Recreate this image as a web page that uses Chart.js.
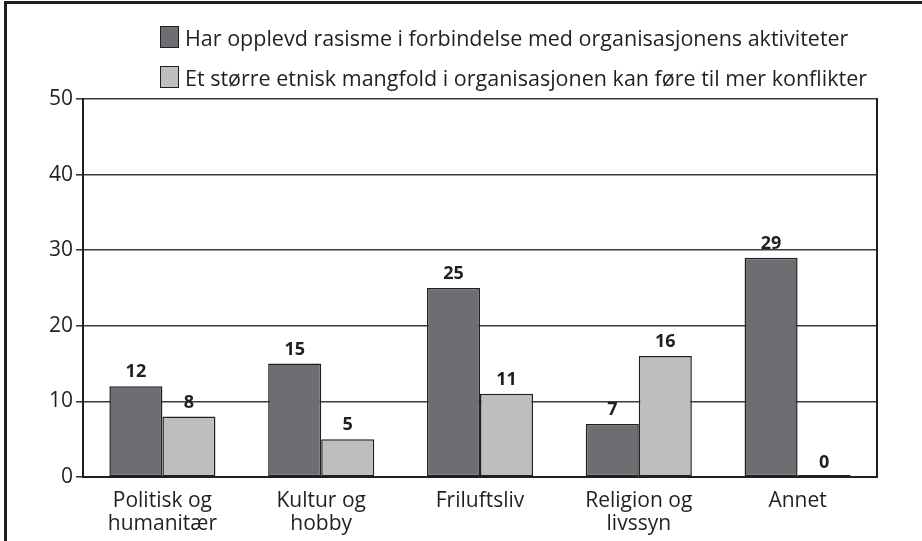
<!DOCTYPE html>
<html>
<head>
  <title>Rasisme og mangfold</title>
  <script src="https://cdn.jsdelivr.net/npm/chart.js"></script>
  <style>
    body { margin: 0; background: #fff; }
    #wrap { position: relative; width: 922px; height: 541px; }
    #frame { position: absolute; left: 4px; top: 1px; right: 0; bottom: 0;
             border-left: 3px solid #231f20; border-top: 3px solid #231f20; pointer-events: none; }
    #legend { position: absolute; left: 160px; top: 25px; font-family: "Open Sans", sans-serif;
              font-size: 21.5px; color: #231f20; }
    .item { display: flex; align-items: center; height: 24px; margin-bottom: 16px; white-space: nowrap; }
    .box { width: 17px; height: 20px; border: 1.5px solid #231f20; margin-right: 6px; flex: none; }
  </style>
</head>
<body>
<div id="wrap">
  <canvas id="myChart" width="922" height="541"></canvas>
  <div id="frame"></div>
  <div id="legend"></div>
</div>

<script>
  const categories = [['Politisk og', 'humanitær'], ['Kultur og', 'hobby'], 'Friluftsliv', ['Religion og', 'livssyn'], 'Annet'];
  const seriesNames = [
    'Har opplevd rasisme i forbindelse med organisasjonens aktiviteter',
    'Et større etnisk mangfold i organisasjonen kan føre til mer konflikter'
  ];
  const experienced = [12, 15, 25, 7, 29];
  const conflicts = [8, 5, 11, 16, 0];
  const yTicks = [0, 10, 20, 30, 40, 50];

  const ink = '#231f20';
  const colors = ['#6d6e71', '#bcbec0'];

  // value labels above bars
  const valueLabels = {
    id: 'valueLabels',
    afterDatasetsDraw(chart) {
      const ctx = chart.ctx;
      ctx.save();
      ctx.font = 'bold 18px "Open Sans", sans-serif';
      ctx.fillStyle = ink;
      ctx.textAlign = 'center';
      ctx.textBaseline = 'middle';
      chart.data.datasets.forEach((ds, i) => {
        chart.getDatasetMeta(i).data.forEach((bar, j) => {
          const y = chart.scales.y.getPixelForValue(ds.data[j]);
          ctx.fillText(ds.data[j], bar.x, y - 14);
        });
      });
      ctx.restore();
    }
  };

  const myChart = new Chart(document.getElementById('myChart'), {
    type: 'bar',
    data: {
      labels: categories,
      datasets: [
        { label: seriesNames[0], data: experienced, backgroundColor: colors[0] },
        { label: seriesNames[1], data: conflicts, backgroundColor: colors[1] }
      ]
    },
    options: {
      responsive: false,
      animation: false,
      layout: { padding: { top: 99, right: 44, left: 0, bottom: 0 } },
      datasets: {
        bar: {
          borderColor: ink,
          borderWidth: 1.5,
          borderSkipped: false,
          categoryPercentage: 0.668,
          barPercentage: 1,
          minBarLength: 2
        }
      },
      plugins: {
        legend: { display: false },
        tooltip: { enabled: false }
      },
      scales: {
        x: {
          grid: { display: false },
          border: { display: true, color: ink, width: 2 },
          ticks: {
            color: ink,
            padding: 4,
            font: { family: '"Open Sans", sans-serif', size: 21, lineHeight: 1.1 },
            maxRotation: 0
          },
          afterFit(scale) { scale.height = 64; }
        },
        y: {
          min: 0,
          max: 50,
          afterBuildTicks(scale) { scale.ticks = yTicks.map(v => ({ value: v })); },
          grid: { color: '#3c3a3b', lineWidth: 1.6, tickLength: 7 },
          border: { display: true, color: ink, width: 2 },
          ticks: {
            color: ink,
            padding: 3,
            font: { family: '"Open Sans", sans-serif', size: 21 }
          },
          afterFit(scale) { scale.width = 83; }
        },
        y2: {
          position: 'right',
          min: 0,
          max: 50,
          grid: { drawOnChartArea: false, drawTicks: false },
          border: { display: true, color: ink, width: 2 },
          ticks: { display: false },
          afterFit(scale) { scale.width = 1; }
        }
      }
    },
    plugins: [valueLabels]
  });

  // legend drawn as html from the series names
  const legend = document.getElementById('legend');
  seriesNames.forEach((name, i) => {
    const row = document.createElement('div');
    row.className = 'item';
    row.innerHTML = '<span class="box" style="background:' + colors[i] + '"></span><span>' + name + '</span>';
    legend.appendChild(row);
  });
</script>
</body>
</html>
